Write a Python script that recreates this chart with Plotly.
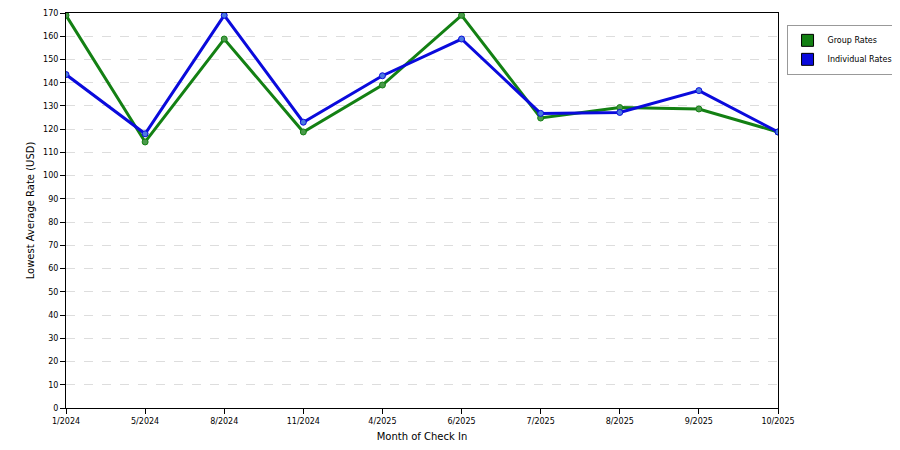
import plotly.graph_objects as go

months = ["1/2024","5/2024","8/2024","11/2024","4/2025","6/2025","7/2025","8/2025","9/2025","10/2025"]
group_rates = [169, 114.5, 158.8, 118.8, 139, 169, 124.8, 129.3, 128.7, 118.8]
individual_rates = [143.5, 118, 169, 123, 143, 158.8, 126.8, 127.2, 136.6, 118.8]

fig = go.Figure()
fig.add_trace(go.Scatter(x=months, y=group_rates, name="Group Rates", mode="lines+markers", showlegend=False,
    line=dict(color="#138013", width=3), marker=dict(color="#4a9a4a", size=6, line=dict(color="#138013", width=1))))
fig.add_trace(go.Scatter(x=months, y=individual_rates, name="Individual Rates", mode="lines+markers", showlegend=False,
    line=dict(color="#0a0adc", width=3), marker=dict(color="#4a7ae0", size=6, line=dict(color="#0a0adc", width=1))))
for nm, col in [("Group Rates", "#138013"), ("Individual Rates", "#0a0adc")]:
    fig.add_trace(go.Scatter(x=[None], y=[None], name=nm, mode="markers",
        marker=dict(symbol="square", size=12, color=col, line=dict(color="black", width=1))))

fig.update_layout(
    width=900, height=450, paper_bgcolor="white", plot_bgcolor="white",
    margin=dict(l=58, r=130, t=5, b=50),
    font=dict(family="DejaVu Sans", size=8, color="black"),
    legend=dict(x=1.012, y=0.97, xanchor="left", yanchor="top", bordercolor="#999", borderwidth=1,
                bgcolor="white", font=dict(size=8), tracegroupgap=2),
    xaxis=dict(title=dict(text="Month of Check In", standoff=8), type="category", range=[0, 9],
               showline=True, linecolor="black", mirror=True, ticks="outside", ticklen=5, automargin=False,
               tickcolor="black", showgrid=False),
    yaxis=dict(title=dict(text="Lowest Average Rate (USD)", standoff=6), range=[0, 170], dtick=10,
               showline=True, linecolor="black", mirror=True, ticks="outside", ticklen=5, automargin=False,
               tickcolor="black", showgrid=True, gridcolor="#ddd", griddash="dash", zeroline=False),
)
fig.write_html("out.html")
